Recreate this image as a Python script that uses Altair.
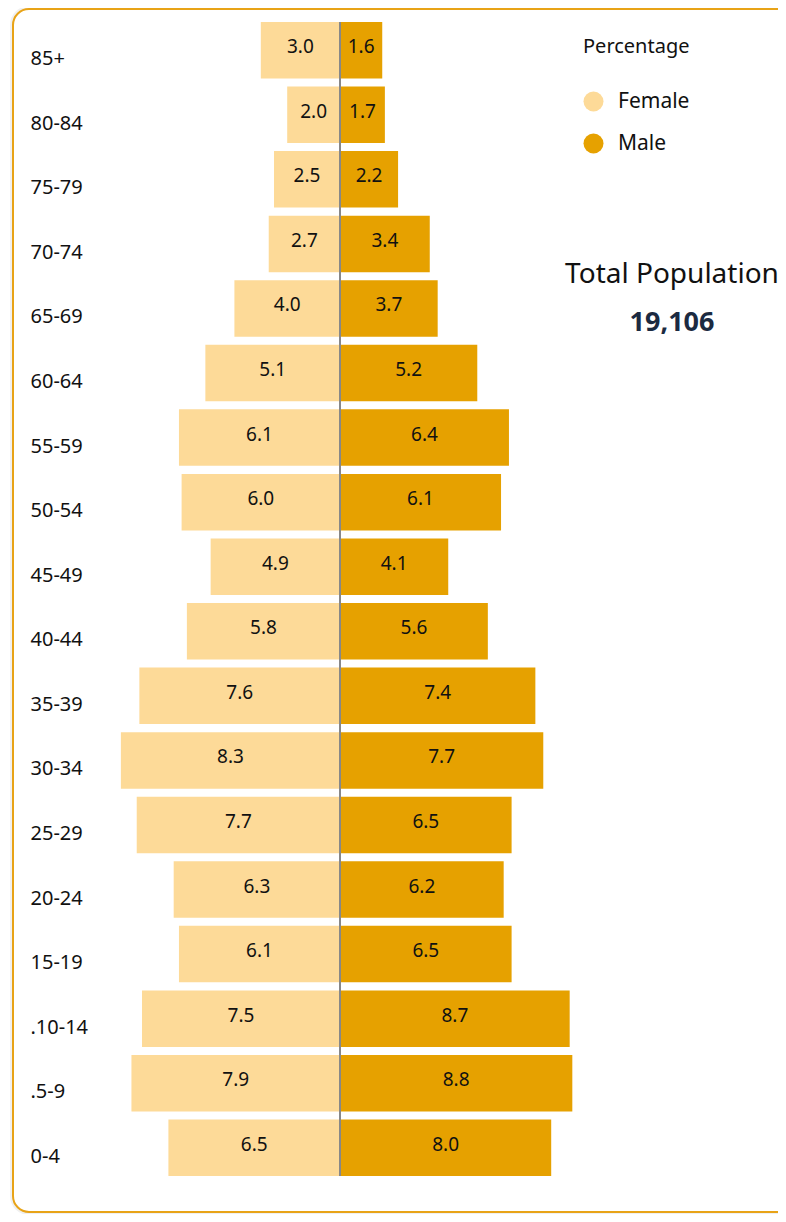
import altair as alt
import pandas as pd

# ---- data ----
age_groups = ["85+", "80-84", "75-79", "70-74", "65-69", "60-64", "55-59", "50-54",
              "45-49", "40-44", "35-39", "30-34", "25-29", "20-24", "15-19",
              ".10-14", ".5-9", "0-4"]
female_pct = [3.0, 2.0, 2.5, 2.7, 4.0, 5.1, 6.1, 6.0, 4.9, 5.8, 7.6, 8.3, 7.7, 6.3, 6.1, 7.5, 7.9, 6.5]
male_pct = [1.6, 1.7, 2.2, 3.4, 3.7, 5.2, 6.4, 6.1, 4.1, 5.6, 7.4, 7.7, 6.5, 6.2, 6.5, 8.7, 8.8, 8.0]
genders = ["Female", "Male"]
total_population = 19106

FEMALE_COLOR = "#FDDA98"
MALE_COLOR = "#E6A100"
FONT = "Noto Sans"

rows = []
for a, f, m in zip(age_groups, female_pct, male_pct):
    rows.append({"age": a, "gender": "Female", "value": f, "signed": -f, "mid": -f / 2})
    rows.append({"age": a, "gender": "Male", "value": m, "signed": m, "mid": m / 2})
df = pd.DataFrame(rows)

W, H = 670, 1154
x_scale = alt.Scale(domain=[-8.788, 16.591], nice=False, zero=False)
y_enc = alt.Y(
    "age:N", sort=age_groups,
    scale=alt.Scale(paddingInner=0.125, paddingOuter=0),
    axis=alt.Axis(title=None, domain=False, ticks=False, grid=False, zindex=1,
                  labelAlign="left", labelPadding=78, labelOffset=9,
                  labelFontSize=20, labelFont=FONT, labelColor="#111111"),
)

base = alt.Chart(df)

card_df = pd.DataFrame({"k": [0]})
shadow = alt.Chart(card_df).mark_rect(
    cornerRadius=16, fill="white", stroke="#000000", strokeOpacity=0.06, strokeWidth=6
).encode(x=alt.value(-95), x2=alt.value(720), y=alt.value(-13), y2=alt.value(1190))
card = alt.Chart(card_df).mark_rect(
    cornerRadius=16, fill="white", stroke="#E8A317", strokeWidth=2
).encode(x=alt.value(-95), x2=alt.value(720), y=alt.value(-13), y2=alt.value(1190))

bars = base.mark_bar().encode(
    x=alt.X("signed:Q", scale=x_scale, axis=None),
    x2=alt.X2(datum=0),
    y=y_enc,
    color=alt.Color(
        "gender:N",
        scale=alt.Scale(domain=genders, range=[FEMALE_COLOR, MALE_COLOR]),
        legend=alt.Legend(
            title="Percentage", orient="none", legendX=475, legendY=15,
            symbolType="circle", symbolSize=400, symbolStrokeWidth=0, symbolOpacity=1,
            titleFont=FONT, titleFontSize=20, titleFontWeight="normal", titleColor="#111111",
            titlePadding=34, labelFont=FONT, labelFontSize=21, labelColor="#111111",
            labelOffset=14, rowPadding=20,
        ),
    ),
)

labels = base.mark_text(font=FONT, fontSize=19, color="#111111", baseline="middle", dy=-3).encode(
    x=alt.X("mid:Q", scale=x_scale),
    y=y_enc,
    text=alt.Text("value:Q", format=".1f"),
)

center = alt.Chart(card_df).mark_rule(color="#888888", strokeWidth=2).encode(
    x=alt.X(datum=0, scale=x_scale)
)

tp_df = pd.DataFrame({"label": ["Total Population"], "total": [total_population]})
tp_title = alt.Chart(tp_df).mark_text(
    font=FONT, fontSize=28, color="#111111", align="center", baseline="middle"
).encode(x=alt.value(564), y=alt.value(253), text="label:N")
tp_value = alt.Chart(tp_df).mark_text(
    font=FONT, fontSize=27, fontWeight="bold", color="#1B2A41", align="center", baseline="middle"
).encode(x=alt.value(564), y=alt.value(301), text=alt.Text("total:Q", format=","))

chart = alt.layer(shadow, card, bars, labels, center, tp_title, tp_value).properties(
    width=W, height=H,
    padding={"left": 100, "top": 14, "right": 0, "bottom": 38},
    autosize=alt.AutoSizeParams(type="none"),
).configure_view(stroke=None).configure(background="white")

chart.save("out.html", embed_options={"renderer": "svg", "actions": False})
